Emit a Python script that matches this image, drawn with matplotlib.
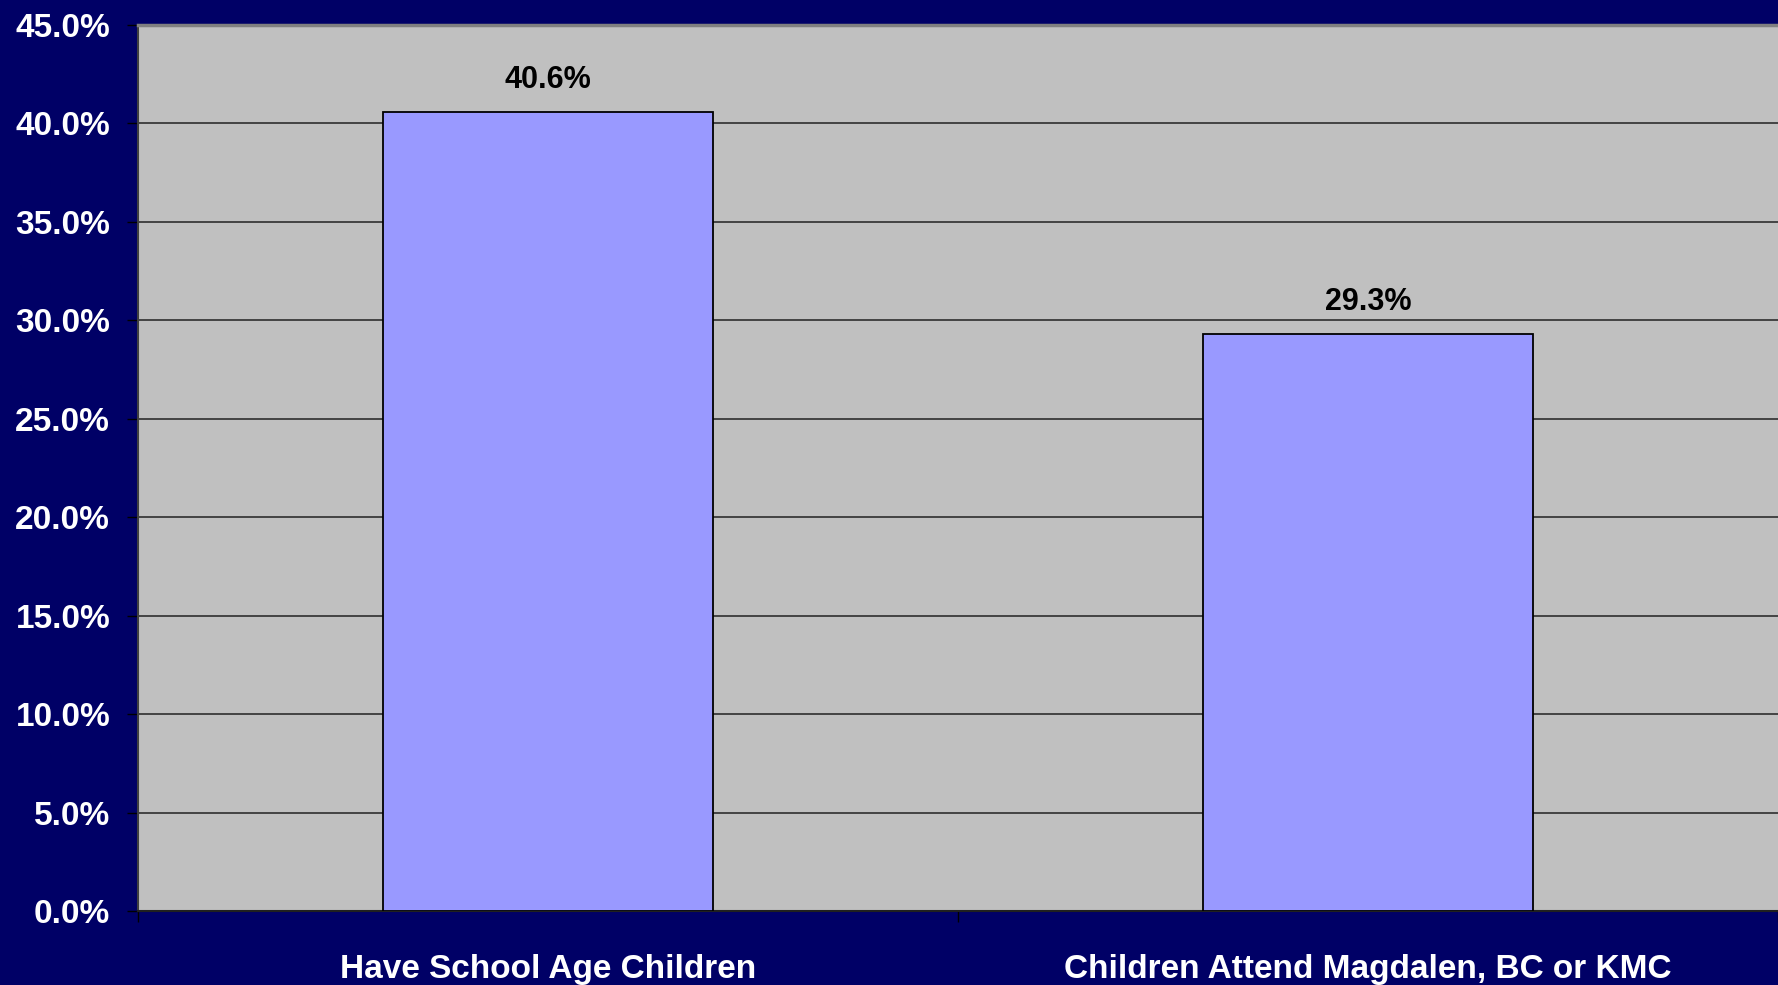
import matplotlib
matplotlib.use('Agg')
import matplotlib.pyplot as plt
import numpy as np

categories = ['Have School Age Children', 'Children Attend Magdalen, BC or KMC']
values = [40.6, 29.3]
yticks = [0, 5, 10, 15, 20, 25, 30, 35, 40, 45]

plt.rcParams['font.family'] = ['Liberation Sans', 'DejaVu Sans']
plt.rcParams['font.weight'] = 'bold'

navy = '#000066'
fig = plt.figure(figsize=(17.78, 9.85), dpi=100, facecolor=navy)
ax = fig.add_axes([0.0776, 0.0751, 0.9224, 0.8995])
ax.set_facecolor('#C0C0C0')

x = np.arange(len(categories))
ax.bar(x, values, width=0.402, color='#9999FF', edgecolor='black', linewidth=1.3, zorder=3)

# value labels above the bars
for xi, v in zip(x, values):
    ax.text(xi, v + 0.85, '%.1f%%' % v, ha='center', va='bottom',
            fontsize=22, fontweight='bold', color='black', zorder=4)

ax.set_xlim(-0.5, 1.5)
ax.set_ylim(0, 45)
ax.set_yticks(yticks)
ax.set_yticklabels(['%.1f%%' % t for t in yticks])
ax.yaxis.grid(True, color='#222222', linewidth=1.1, zorder=1)
ax.set_axisbelow(True)

# tick marks at category boundaries, labels at centers
ax.set_xticks([-0.5, 0.5, 1.5])
ax.set_xticklabels([])
ax.set_xticks(x, minor=True)
ax.set_xticklabels(categories, minor=True)
ax.tick_params(axis='x', which='minor', length=0, pad=31, labelsize=24, labelcolor='white')
ax.tick_params(axis='x', which='major', length=8, width=1, color='black', direction='out')
ax.tick_params(axis='y', length=8, width=1, color='black', direction='out',
               pad=12, labelsize=24, labelcolor='white')

for lab in ax.get_xticklabels(minor=True) + ax.get_yticklabels():
    lab.set_fontweight('bold')

ax.spines['top'].set_color('#808080')
ax.spines['top'].set_linewidth(2.5)
ax.spines['right'].set_visible(False)
ax.spines['left'].set_color('#404040')
ax.spines['left'].set_linewidth(1.5)
ax.spines['bottom'].set_color('#202020')
ax.spines['bottom'].set_linewidth(1.5)

plt.savefig('out.png', dpi=100, facecolor=navy)
